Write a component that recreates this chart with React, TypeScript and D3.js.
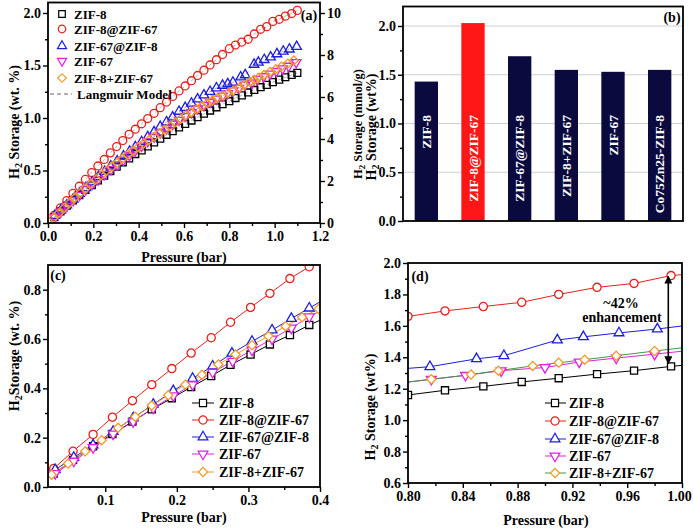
import React, { useRef, useEffect } from 'react';
import * as d3 from 'd3';

const FONT = "'Liberation Serif', 'Times New Roman', serif";

const seriesNames = ['ZIF-8', 'ZIF-8@ZIF-67', 'ZIF-67@ZIF-8', 'ZIF-67', 'ZIF-8+ZIF-67'];

// pressure (bar) / H2 uptake (wt.%)
const pressureZif8 = [0.028, 0.055, 0.083, 0.11, 0.138, 0.165, 0.193, 0.22, 0.248, 0.275, 0.303, 0.33, 0.358, 0.385, 0.413, 0.44, 0.468, 0.495, 0.523, 0.55, 0.578, 0.605, 0.633, 0.66, 0.688, 0.715, 0.743, 0.77, 0.8, 0.827, 0.855, 0.883, 0.91, 0.938, 0.965, 0.992, 1.02, 1.047, 1.075, 1.1];
const storageZif8 = [0.055, 0.11, 0.165, 0.215, 0.265, 0.315, 0.36, 0.405, 0.45, 0.495, 0.537, 0.578, 0.616, 0.657, 0.692, 0.729, 0.767, 0.803, 0.84, 0.874, 0.91, 0.943, 0.976, 1.008, 1.041, 1.071, 1.102, 1.131, 1.16, 1.19, 1.215, 1.243, 1.267, 1.293, 1.315, 1.342, 1.365, 1.388, 1.41, 1.43];

const pressureCoreShell = pressureZif8;
const storageCoreShell = [0.075, 0.145, 0.213, 0.283, 0.35, 0.415, 0.48, 0.543, 0.605, 0.668, 0.728, 0.785, 0.845, 0.893, 0.945, 0.995, 1.045, 1.098, 1.152, 1.205, 1.258, 1.305, 1.355, 1.405, 1.455, 1.505, 1.555, 1.605, 1.66, 1.695, 1.723, 1.75, 1.8, 1.845, 1.87, 1.92, 1.94, 1.97, 1.995, 2.025];

const pressureInverse = [0.03, 0.056, 0.083, 0.111, 0.139, 0.167, 0.195, 0.222, 0.25, 0.277, 0.305, 0.333, 0.36, 0.385, 0.413, 0.44, 0.468, 0.495, 0.523, 0.55, 0.578, 0.605, 0.633, 0.66, 0.688, 0.715, 0.743, 0.77, 0.793, 0.816, 0.85, 0.87, 0.909, 0.928, 0.954, 0.982, 1.01, 1.038, 1.065, 1.097];
const storageInverse = [0.07, 0.12, 0.17, 0.225, 0.28, 0.335, 0.39, 0.44, 0.49, 0.542, 0.59, 0.636, 0.683, 0.725, 0.773, 0.82, 0.868, 0.917, 0.962, 1.008, 1.062, 1.098, 1.14, 1.18, 1.218, 1.252, 1.285, 1.31, 1.325, 1.34, 1.39, 1.41, 1.51, 1.53, 1.555, 1.58, 1.61, 1.635, 1.655, 1.68];

const pressureZif67 = [0.03, 0.056, 0.083, 0.111, 0.139, 0.167, 0.195, 0.222, 0.25, 0.278, 0.305, 0.333, 0.36, 0.385, 0.413, 0.44, 0.468, 0.495, 0.523, 0.55, 0.578, 0.605, 0.633, 0.66, 0.688, 0.715, 0.743, 0.77, 0.793, 0.817, 0.842, 0.868, 0.9, 0.925, 0.952, 0.98, 1.007, 1.035, 1.062, 1.095];
const storageZif67 = [0.055, 0.105, 0.16, 0.215, 0.265, 0.32, 0.37, 0.415, 0.465, 0.51, 0.555, 0.6, 0.645, 0.69, 0.735, 0.778, 0.82, 0.862, 0.902, 0.942, 0.98, 1.018, 1.053, 1.088, 1.12, 1.152, 1.182, 1.21, 1.235, 1.26, 1.285, 1.315, 1.335, 1.37, 1.395, 1.42, 1.445, 1.47, 1.495, 1.53];

const pressureMix = [0.025, 0.048, 0.072, 0.095, 0.118, 0.142, 0.165, 0.188, 0.212, 0.235, 0.258, 0.282, 0.305, 0.328, 0.352, 0.375, 0.398, 0.422, 0.445, 0.468, 0.492, 0.515, 0.538, 0.562, 0.585, 0.608, 0.632, 0.655, 0.678, 0.702, 0.725, 0.748, 0.772, 0.795, 0.817, 0.846, 0.866, 0.891, 0.91, 0.929, 0.952, 0.98, 1.005, 1.03, 1.058, 1.085];
const storageMix = [0.05, 0.095, 0.145, 0.19, 0.24, 0.285, 0.33, 0.372, 0.415, 0.455, 0.497, 0.537, 0.575, 0.612, 0.652, 0.688, 0.722, 0.757, 0.79, 0.823, 0.856, 0.888, 0.92, 0.958, 0.99, 1.025, 1.055, 1.085, 1.112, 1.14, 1.165, 1.19, 1.213, 1.237, 1.26, 1.29, 1.315, 1.345, 1.365, 1.385, 1.41, 1.44, 1.465, 1.49, 1.518, 1.548];

// panel (b)
const barNames = ['ZIF-8', 'ZIF-8@ZIF-67', 'ZIF-67@ZIF-8', 'ZIF-8+ZIF-67', 'ZIF-67', 'Co75Zn25-ZIF-8'];
const barValues = [1.43, 2.03, 1.69, 1.55, 1.53, 1.55];

// ticks
const ticksAx = [0, 0.2, 0.4, 0.6, 0.8, 1.0, 1.2];
const ticksAy = [0, 0.5, 1.0, 1.5, 2.0];
const ticksAright = [0, 2, 4, 6, 8, 10];
const ticksBy = [0, 0.5, 1.0, 1.5, 2.0];
const ticksCx = [0.1, 0.2, 0.3, 0.4];
const ticksCy = [0, 0.2, 0.4, 0.6, 0.8];
const ticksDx = [0.8, 0.84, 0.88, 0.92, 0.96, 1.0];
const ticksDy = [0.6, 0.8, 1.0, 1.2, 1.4, 1.6, 1.8, 2.0];

const enhancement = { at: 0.99, from: 1.915, to: 1.36 };

const series = [
  { name: seriesNames[0], p: pressureZif8, v: storageZif8, color: '#000000', shape: 'square' },
  { name: seriesNames[1], p: pressureCoreShell, v: storageCoreShell, color: '#e3211c', shape: 'circle' },
  { name: seriesNames[2], p: pressureInverse, v: storageInverse, color: '#1d1de0', shape: 'up' },
  { name: seriesNames[3], p: pressureZif67, v: storageZif67, color: '#e020e0', shape: 'down' },
  { name: seriesNames[4], p: pressureMix, v: storageMix, color: '#f29a22', shape: 'diamond' },
];

const symbolPath = (shape: string, s = 1) => {
  if (shape === 'square') return { d: d3.symbol().type(d3.symbolSquare).size(48 * s)()!, rot: 0 };
  if (shape === 'circle') return { d: d3.symbol().type(d3.symbolCircle).size(50 * s)()!, rot: 0 };
  if (shape === 'up') return { d: d3.symbol().type(d3.symbolTriangle).size(40 * s)()!, rot: 0 };
  if (shape === 'down') return { d: d3.symbol().type(d3.symbolTriangle).size(40 * s)()!, rot: 180 };
  return { d: d3.symbol().type(d3.symbolSquare).size(40 * s)()!, rot: 45 };
};

const App = () => {
  const svgRef = useRef<SVGSVGElement>(null);

  useEffect(() => {
    const svg = d3.select(svgRef.current);
    svg.selectAll('*').remove();

    const text = (x: number, y: number, str: string, size = 14, anchor = 'middle', fill = '#000') =>
      svg.append('text').attr('x', x).attr('y', y).attr('text-anchor', anchor).attr('fill', fill)
        .style('font-family', FONT).style('font-weight', 'bold').style('font-size', `${size}px`).text(str);

    const yTitle = (x: number, y: number, rest: string, size = 14, gap = true) => {
      const t = svg.append('text').attr('transform', `translate(${x},${y}) rotate(-90)`)
        .attr('text-anchor', 'middle').attr('fill', '#000')
        .style('font-family', FONT).style('font-weight', 'bold').style('font-size', `${size}px`);
      t.append('tspan').text('H');
      t.append('tspan').attr('dy', 3).style('font-size', `${size * 0.72}px`).text('2');
      t.append('tspan').attr('dy', -3).text((gap ? ' ' : '') + rest);
    };

    const axis = (gen: any, tx: number, ty: number) => {
      const g = svg.append('g').attr('transform', `translate(${tx},${ty})`).call(gen);
      g.select('.domain').remove();
      g.selectAll('.tick line').attr('stroke', '#000').attr('stroke-width', 1.4);
      g.selectAll('.tick text').attr('fill', '#000').style('font-family', FONT)
        .style('font-weight', 'bold').style('font-size', '14px');
      return g;
    };

    const minors = (ticks: number[], step: number, lo: number, hi: number) => {
      const out: number[] = [];
      for (let i = 0; i < ticks.length + 1; i++) {
        const m = ticks[0] + (i - 0.5) * step;
        if (m > lo + 1e-9 && m < hi - 1e-9) out.push(m);
      }
      return out;
    };

    const frame = (x0: number, y0: number, x1: number, y1: number) =>
      svg.append('rect').attr('x', x0).attr('y', y0).attr('width', x1 - x0).attr('height', y1 - y0)
        .attr('fill', 'none').attr('stroke', '#000').attr('stroke-width', 1.8);

    const drawMarkers = (g: any, s: any, x: any, y: any, fill: string, scale: number) => {
      const sym = symbolPath(s.shape, scale);
      g.selectAll(null).data(s.p.map((p: number, i: number) => [p, s.v[i]])).enter().append('path')
        .attr('d', sym.d)
        .attr('transform', (d: number[]) => `translate(${x(d[0])},${y(d[1])}) rotate(${sym.rot})`)
        .attr('fill', fill).attr('stroke', s.color).attr('stroke-width', 1.3);
    };

    const defs = svg.append('defs');

    // ---------- (a) ----------
    const xa = d3.scaleLinear([0, 1.2], [48, 320]);
    const ya = d3.scaleLinear([0, 2.1], [223, 2.5]);
    const ya2 = d3.scaleLinear([0, 10.5], [223, 2.5]);
    axis(d3.axisLeft(ya).tickValues(ticksAy).tickSize(5).tickPadding(2).tickFormat(d3.format('.1f')), 48, 0);
    axis(d3.axisLeft(ya).tickValues(minors(ticksAy, 0.5, 0, 2.1)).tickSize(3).tickFormat(() => ''), 48, 0);
    axis(d3.axisBottom(xa).tickValues(ticksAx).tickSize(5).tickPadding(3).tickFormat(d3.format('.1f')), 0, 223);
    axis(d3.axisBottom(xa).tickValues(minors(ticksAx, 0.2, 0, 1.2)).tickSize(3).tickFormat(() => ''), 0, 223);
    axis(d3.axisRight(ya2).tickValues(ticksAright).tickSize(5).tickPadding(2).tickFormat(d3.format('d')), 320, 0);
    axis(d3.axisRight(ya2).tickValues(minors(ticksAright, 2, 0, 10.5)).tickSize(3).tickFormat(() => ''), 320, 0);

    const ga = svg.append('g');
    const langmuir = d3.line<number[]>().x(d => xa(d[0])).y(d => ya(d[1])).curve(d3.curveMonotoneX);
    series.forEach(s => {
      ga.append('path').datum(s.p.map((p, i) => [p, s.v[i]])).attr('d', langmuir)
        .attr('fill', 'none').attr('stroke', '#9a9a9a').attr('stroke-width', 0.8).attr('stroke-dasharray', '3,3');
    });
    series.forEach(s => drawMarkers(ga, s, xa, ya, 'none', 1));
    frame(48, 2.5, 320, 223);

    // legend (a)
    const legRowsA = [14, 29, 46, 61, 78];
    series.forEach((s, i) => {
      const sym = symbolPath(s.shape, 0.9);
      svg.append('path').attr('d', sym.d).attr('transform', `translate(62,${legRowsA[i]}) rotate(${sym.rot})`)
        .attr('fill', 'none').attr('stroke', s.color).attr('stroke-width', 1.2);
      text(74, legRowsA[i] + 5, s.name, 13, 'start');
    });
    svg.append('line').attr('x1', 50).attr('x2', 72).attr('y1', 94).attr('y2', 94)
      .attr('stroke', '#666').attr('stroke-width', 1).attr('stroke-dasharray', '4,3');
    text(77, 99, 'Langmuir Model', 13, 'start');
    text(309, 20, '(a)', 14);
    text(184, 262, 'Pressure (bar)', 14);
    yTitle(19, 122, 'Storage (wt. %)');
    yTitle(362, 124, 'Storage (mmol/g)', 12.5);

    // ---------- (b) ----------
    const xb = d3.scaleBand(barNames, [403, 683]).paddingInner(0.5).paddingOuter(0.25);
    const yb = d3.scaleLinear([0, 2.2], [221, 6.5]);
    svg.append('g').selectAll('line').data(ticksBy.slice(1)).enter().append('line')
      .attr('x1', 403).attr('x2', 683).attr('y1', d => yb(d)).attr('y2', d => yb(d))
      .attr('stroke', '#cfcfcf').attr('stroke-width', 1);
    svg.append('g').selectAll('rect').data(barNames).enter().append('rect')
      .attr('x', d => xb(d)!).attr('width', xb.bandwidth())
      .attr('y', (d, i) => yb(barValues[i])).attr('height', (d, i) => yb(0) - yb(barValues[i]))
      .attr('fill', (d, i) => (i === 1 ? '#ff1616' : '#0a0a3e'));
    svg.append('g').selectAll('text').data(barNames).enter().append('text')
      .attr('transform', d => `translate(${xb(d)! + xb.bandwidth() / 2},115) rotate(-90)`)
      .attr('text-anchor', 'end').attr('dy', '0.35em').attr('fill', '#fff')
      .style('font-family', FONT).style('font-weight', 'bold').style('font-size', '13.5px')
      .text(d => d);
    axis(d3.axisLeft(yb).tickValues(ticksBy).tickSize(5).tickPadding(2).tickFormat(d3.format('.1f')), 403, 0);
    axis(d3.axisLeft(yb).tickValues(minors(ticksBy, 0.5, 0, 2.2)).tickSize(3).tickFormat(() => ''), 403, 0);
    frame(403, 6.5, 683, 221);
    text(672, 22, '(b)', 14);
    yTitle(376, 127, 'Storage (wt%)');

    // ---------- (c) ----------
    const xc = d3.scaleLinear([0.02, 0.4], [48, 320]);
    const yc = d3.scaleLinear([0, 0.9], [487, 265]);
    defs.append('clipPath').attr('id', 'clip-c').append('rect').attr('x', 48).attr('y', 265).attr('width', 272).attr('height', 222);
    const gc = svg.append('g').attr('clip-path', 'url(#clip-c)');
    const lineC = d3.line<number[]>().x(d => xc(d[0])).y(d => yc(d[1]));
    series.forEach(s => {
      gc.append('path').datum(s.p.map((p, i) => [p, s.v[i]])).attr('d', lineC)
        .attr('fill', 'none').attr('stroke', s.color).attr('stroke-width', 1);
    });
    series.forEach(s => drawMarkers(gc, s, xc, yc, '#fff', 1.05));
    axis(d3.axisLeft(yc).tickValues(ticksCy).tickSize(5).tickPadding(2).tickFormat(d3.format('.1f')), 48, 0);
    axis(d3.axisLeft(yc).tickValues(minors(ticksCy, 0.2, 0, 0.9)).tickSize(3).tickFormat(() => ''), 48, 0);
    axis(d3.axisBottom(xc).tickValues(ticksCx).tickSize(5).tickPadding(3).tickFormat(d3.format('.1f')), 0, 487);
    axis(d3.axisBottom(xc).tickValues(minors(ticksCx, 0.1, 0.02, 0.4)).tickSize(3).tickFormat(() => ''), 0, 487);
    frame(48, 265, 320, 487);
    text(58, 280, '(c)', 14);
    text(184, 522, 'Pressure (bar)', 14);
    yTitle(19, 356, 'Storage (wt. %)', 14, false);

    const legRowsC = [403, 420, 437, 454, 472];
    series.forEach((s, i) => {
      svg.append('line').attr('x1', 192).attr('x2', 214).attr('y1', legRowsC[i]).attr('y2', legRowsC[i])
        .attr('stroke', s.color).attr('stroke-width', 1);
      const sym = symbolPath(s.shape, 1.05);
      svg.append('path').attr('d', sym.d).attr('transform', `translate(203,${legRowsC[i]}) rotate(${sym.rot})`)
        .attr('fill', '#fff').attr('stroke', s.color).attr('stroke-width', 1.2);
      text(219, legRowsC[i] + 5, s.name, 14, 'start');
    });

    // ---------- (d) ----------
    const xd = d3.scaleLinear([0.8, 1.0], [408, 682]);
    const yd = d3.scaleLinear([0.6, 2.0], [483, 263]);
    defs.append('clipPath').attr('id', 'clip-d').append('rect').attr('x', 408).attr('y', 263).attr('width', 274).attr('height', 220);
    const gd = svg.append('g').attr('clip-path', 'url(#clip-d)');
    const lineD = d3.line<number[]>().x(d => xd(d[0])).y(d => yd(d[1]));
    series.forEach((s, i) => {
      gd.append('path').datum(s.p.map((p, k) => [p, s.v[k]])).attr('d', lineD)
        .attr('fill', 'none').attr('stroke', i === 4 ? '#3f9a45' : s.color).attr('stroke-width', 1);
    });
    series.forEach(s => drawMarkers(gd, s, xd, yd, '#fff', 1.05));
    axis(d3.axisLeft(yd).tickValues(ticksDy).tickSize(5).tickPadding(2).tickFormat(d3.format('.1f')), 408, 0);
    axis(d3.axisLeft(yd).tickValues(minors(ticksDy, 0.2, 0.6, 2.0)).tickSize(3).tickFormat(() => ''), 408, 0);
    const dxAxis = axis(d3.axisBottom(xd).tickValues(ticksDx).tickSize(5).tickPadding(3).tickFormat(d3.format('.2f')), 0, 483);
    dxAxis.selectAll('.tick text').filter((d: any) => d === 1.0).attr('dx', -3);
    axis(d3.axisBottom(xd).tickValues(minors(ticksDx, 0.04, 0.8, 1.0)).tickSize(3).tickFormat(() => ''), 0, 483);
    frame(408, 263, 682, 483);
    text(420, 281, '(d)', 14);
    text(546, 525, 'Pressure (bar)', 14);
    yTitle(375, 407, 'Storage (wt%)');

    defs.append('marker').attr('id', 'arrow').attr('viewBox', '0 0 10 10').attr('refX', 9).attr('refY', 5)
      .attr('markerWidth', 5).attr('markerHeight', 5).attr('orient', 'auto-start-reverse')
      .append('path').attr('d', 'M0,0 L10,5 L0,10 z').attr('fill', '#000');
    svg.append('line').attr('x1', xd(enhancement.at)).attr('x2', xd(enhancement.at))
      .attr('y1', yd(enhancement.from)).attr('y2', yd(enhancement.to))
      .attr('stroke', '#000').attr('stroke-width', 1.6)
      .attr('marker-start', 'url(#arrow)').attr('marker-end', 'url(#arrow)');
    text(621, 308, '~42%', 14);
    text(622, 322, 'enhancement', 14);

    const legRowsD = [403, 421, 439, 456, 473];
    series.forEach((s, i) => {
      svg.append('line').attr('x1', 545).attr('x2', 566).attr('y1', legRowsD[i]).attr('y2', legRowsD[i])
        .attr('stroke', i === 4 ? '#3f9a45' : s.color).attr('stroke-width', 1);
      const sym = symbolPath(s.shape, 1.05);
      svg.append('path').attr('d', sym.d).attr('transform', `translate(555,${legRowsD[i]}) rotate(${sym.rot})`)
        .attr('fill', '#fff').attr('stroke', s.color).attr('stroke-width', 1.2);
      text(569, legRowsD[i] + 5, s.name, 14, 'start');
    });
  }, []);

  return (
    <svg ref={svgRef} width={693} height={530}
      style={{ position: 'absolute', left: 0, top: 0, background: '#fff' }} />
  );
};

export default App;
